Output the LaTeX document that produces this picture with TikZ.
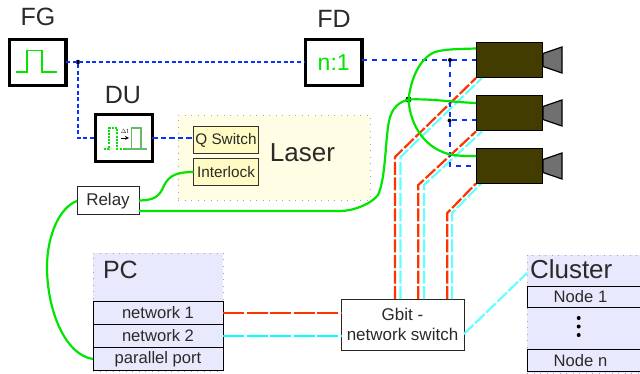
\documentclass[tikz,border=0pt]{standalone}
\usepackage{fontspec}
\setmainfont{Liberation Sans}
\definecolor{txt}{HTML}{2A2A2A}
\definecolor{wgreen}{HTML}{00E600}
\definecolor{wblue}{HTML}{0A32FF}
\definecolor{wred}{HTML}{FF3300}
\definecolor{wcyan}{HTML}{66FFFF}
\definecolor{pcyan}{HTML}{00FFFF}
\definecolor{laserbg}{HTML}{FFFDE3}
\definecolor{portbg}{HTML}{FFFBC2}
\definecolor{pcbg}{HTML}{E9E9FD}
\definecolor{cambody}{HTML}{433C00}
\definecolor{camhorn}{HTML}{707070}
\definecolor{duline}{HTML}{66BB66}
\tikzset{
  every node/.style={inner sep=0pt,outer sep=0pt,text=txt},
  bigbox/.style={draw=black,line width=3.2pt,fill=white,rectangle,minimum width=56.5pt,minimum height=46.5pt},
  biglabel/.style={font=\fontsize{25}{28}\selectfont},
  region/.style={rectangle,fill=#1,draw=gray!70,line width=0.9pt,dash pattern=on 1pt off 5.5pt},
  port/.style={rectangle,draw=black,line width=1pt,fill=pcbg,font=\fontsize{16.6}{18}\selectfont},
  laserport/.style={rectangle,draw=black!80,line width=1pt,fill=portbg,minimum width=65pt,minimum height=27pt,font=\fontsize{15.3}{17}\selectfont},
  plainbox/.style={rectangle,draw=black!85,line width=1pt,fill=white},
  cambox/.style={rectangle,draw=black,line width=1.8pt,fill=cambody,minimum width=66pt,minimum height=35pt},
  horn/.style={draw=black,line width=1.2pt,fill=camhorn},
  sig/.style={wgreen,line width=2.2pt},
  trig/.style={wblue,line width=2pt,dash pattern=on 4pt off 2.6pt},
  trigwide/.style={wblue,line width=2pt,dash pattern=on 5pt off 5pt},
  netr/.style={wred,line width=2.2pt,dash pattern=on 13pt off 2.5pt},
  netc/.style={wcyan,line width=2.2pt,dash pattern=on 13pt off 2.5pt},
  longr/.style={wred,line width=2.2pt,dash pattern=on 21pt off 2.5pt},
  longc/.style={pcyan,line width=2.2pt,dash pattern=on 21pt off 2.5pt},
  junction/.style={circle,fill=black,minimum size=#1}
}
\begin{document}
\begin{tikzpicture}[x=1pt,y=-1pt]
\useasboundingbox (0,0) rectangle (640,374);
\fill[white] (0,0) rectangle (640,374);
% regions
\node[region=laserbg,anchor=north west,minimum width=192pt,minimum height=85pt] (laser) at (178,115) {};
\node[region=pcbg,anchor=north west,minimum width=130pt,minimum height=118pt] (pc) at (93,253) {};
\node[region=pcbg,anchor=north west,minimum width=113pt,minimum height=118pt] (cluster) at (527,255) {};
% boxes
\node[bigbox] (fg) at (37.7,62.5) {};
\node[bigbox] (fd) at (333.7,62.5) {\fontsize{23}{26}\selectfont\textcolor{wgreen}{n:1}};
\node[bigbox] (du) at (124,138) {};
\node[biglabel] (fglabel) at (38,17) {FG};
\node[biglabel] (fdlabel) at (334,19) {FD};
\node[biglabel] (dulabel) at (123,95) {DU};
\node[font=\fontsize{26}{28}\selectfont] (laserlabel) at (302.5,153) {Laser};
\node[biglabel,anchor=west] (pclabel) at (103,270) {PC};
\node[font=\fontsize{26}{28}\selectfont,anchor=west] (clusterlabel) at (530,269) {Cluster};
% laser ports
\node[laserport] (qs) at (226,140.5) {Q Switch};
\node[laserport] (il) at (226,172) {Interlock};
% relay
\node[plainbox,minimum width=62pt,minimum height=28pt,font=\fontsize{17}{19}\selectfont] (relay) at (108,201) {Relay};
% pc ports
\node[port,minimum width=130pt,minimum height=23pt] (n1) at (158,313) {network 1};
\node[port,minimum width=130pt,minimum height=23pt] (n2) at (158,336) {network 2};
\node[port,minimum width=130pt,minimum height=23pt] (pp) at (158,359) {parallel port};
% switch
\node[plainbox,minimum width=123pt,minimum height=51pt,align=center,font=\fontsize{17}{19.5}\selectfont] (sw) at (402.5,324.5) {Gbit -\\network switch};
% cluster rows
\node[port,anchor=north west,minimum width=116pt,minimum height=21pt] (node1) at (527,286) {\hspace*{-9pt}Node 1};
\node[port,anchor=north west,minimum width=116pt,minimum height=22pt] (noden) at (527,349.5) {\hspace*{-9pt}Node n};
\node[junction=4pt] (d1) at (578.7,318) {};
\node[junction=4pt] (d2) at (578.7,326.5) {};
\node[junction=4pt] (d3) at (578.7,335) {};
% network lines first
\coordinate (r1a) at (395,299); \coordinate (r1b) at (395,157); \coordinate (r1c) at (476,78);
\coordinate (c1a) at (400.5,299); \coordinate (c1b) at (400.5,157); \coordinate (c1c) at (482,78);
\coordinate (r2a) at (418.3,299); \coordinate (r2b) at (418.3,185); \coordinate (r2c) at (476,131.5);
\coordinate (c2a) at (424,299); \coordinate (c2b) at (424,185); \coordinate (c2c) at (482,131.5);
\coordinate (r3a) at (447.3,299); \coordinate (r3b) at (447.3,213); \coordinate (r3c) at (476,183.5);
\coordinate (c3a) at (452,299); \coordinate (c3b) at (452,213); \coordinate (c3c) at (481,183.5);
\draw[netc] (c1a) -- (c1b) -- (c1c);
\draw[netr] (r1a) -- (r1b) -- (r1c);
\draw[netc] (c2a) -- (c2b) -- (c2c);
\draw[netr] (r2a) -- (r2b) -- (r2c);
\draw[netc] (c3a) -- (c3b) -- (c3c);
\draw[netr] (r3a) -- (r3b) -- (r3c);
\draw[longr] (n1.east) -- (sw.west |- n1.east);
\draw[longc] (n2.east) -- (sw.west |- n2.east);
\coordinate (swc) at (464,334);
\coordinate (clc) at (527,273);
\draw[netc] (swc) -- (clc);
% trigger lines
\node[junction=4.5pt] (j1) at (78,62) {};
\node[junction=4pt] (j2) at (450,60) {};
\node[junction=4pt] (j3) at (449.5,120.5) {};
\coordinate (cb3) at (450,166);
\draw[trig] (fg.east) -- (fd.west);
\draw[trig] (j1) -- (j1 |- du.west) -- (du.west);
\draw[trig,dash pattern=on 5.5pt off 3pt] (du.east) -- (qs.west |- du.east);
\coordinate (fdo) at (362,60);
\coordinate (cam1in) at (476,60);
\draw[trigwide] (fdo) -- (cam1in);
\draw[trigwide] (j2) -- (cb3) -- (476,166);
\draw[trigwide] (j3) -- (476,120.5);
% cameras
\node[cambox] (cam1) at (509.5,60) {};
\node[cambox] (cam2) at (509.5,113) {};
\node[cambox] (cam3) at (509.5,166) {};
\draw[horn] (543,53.5) -- (562,47) -- (562,73) -- (543,66.5) -- cycle;
\draw[horn] (543,106.5) -- (562,100) -- (562,126) -- (543,119.5) -- cycle;
\draw[horn] (543,159.5) -- (562,153) -- (562,179) -- (543,172.5) -- cycle;
% green wires
\node[junction=6pt] (hub) at (408.5,99.5) {};
\draw[sig] (hub.center) .. controls (411,78) and (420,58) .. (435,52) .. controls (445,49) and (460,49) .. (476,48.5);
\draw[sig] (hub.center) .. controls (430,98.5) and (450,102) .. (476,103);
\draw[sig] (hub.center) .. controls (410,125) and (425,150) .. (453,155) .. controls (460,156) and (468,156) .. (476,156);
\coordinate (r2) at (139,211);
\draw[sig] (r2) -- (340,211) .. controls (355,211) and (372,203) .. (378,195) .. controls (385,180) and (385,150) .. (388,127) .. controls (390,112) and (395,103) .. (hub.center);
\coordinate (r1) at (139,200.7);
\draw[sig] (r1) .. controls (150,199.5) and (156,200) .. (162,190) .. controls (167,178) and (172,172) .. (il.west);
\draw[sig] (relay.west) .. controls (60,207) and (47,235) .. (47,267) .. controls (47,310) and (65,355) .. (pp.west);
% pulse glyphs
\draw[wgreen,line width=1.8pt] (16,72) -- (27,72) -- (27,50.5) -- (42,50.5) -- (42,72) -- (57,72);
\draw[wgreen,line width=1.5pt,dash pattern=on 2pt off 1.2pt] (104,149) -- (109,149) -- (109,128) -- (117,128) -- (117,149) -- (130,149);
\draw[duline,line width=1.5pt] (125,149) -- (147,149);
\draw[duline,line width=1.5pt] (131.5,149) -- (131.5,128) -- (141,128) -- (141,149);
\node[font=\fontsize{6.5}{7}\selectfont] (dt) at (124.5,131) {$\Delta$t};
\coordinate (aa) at (120.5,138); \coordinate (ab) at (129,138);
\draw[black,line width=0.8pt,->,>=stealth] (aa) -- (ab);
\end{tikzpicture}
\end{document}
